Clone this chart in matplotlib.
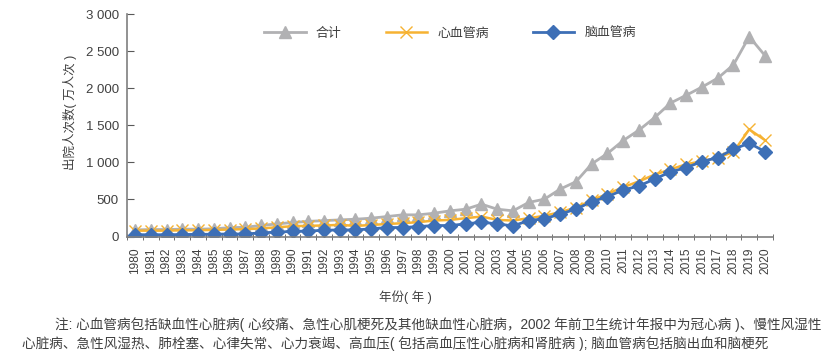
import matplotlib
matplotlib.use("Agg")
import matplotlib.pyplot as plt
from matplotlib.ticker import FuncFormatter, FixedLocator

plt.rcParams["font.family"] = ["Liberation Sans", "Noto Sans CJK SC"]

years = list(range(1980, 2021))
total = [90, 95, 95, 100, 100, 105, 120, 125, 150, 170,
         190, 205, 215, 225, 234, 248, 270, 293, 293, 315,
         347, 369, 437, 369, 347, 460, 505, 640, 740, 980,
         1120, 1295, 1435, 1605, 1800, 1905, 2015, 2135, 2315, 2695,
         2440]
cardio = [80, 80, 80, 85, 85, 90, 95, 100, 110, 125,
          140, 145, 150, 158, 144, 156, 170, 180, 195, 216,
          225, 248, 270, 225, 216, 248, 280, 330, 390, 490,
          575, 665, 745, 835, 905, 975, 1015, 1065, 1140, 1445,
          1300]
cerebro = [25, 25, 25, 28, 30, 32, 35, 35, 50, 60,
           70, 75, 85, 90, 90, 104, 122, 122, 135, 149,
           149, 171, 194, 171, 144, 216, 240, 304, 370, 470,
           538, 628, 682, 777, 871, 930, 1011, 1065, 1178, 1259,
           1146]
labels = ["合计", "心血管病", "脑血管病"]

txt = "#404040"
fig = plt.figure(figsize=(8.31, 3.59), dpi=100)
ax = fig.add_axes([0.153, 0.341, 0.777, 0.62])

ax.plot(years, total, color="#B1B1B3", lw=2, marker="^", ms=8, label=labels[0])
ax.plot(years, cardio, color="#F6B232", lw=1.8, marker="x", ms=9, mew=1.0, label=labels[1])
ax.plot(years, cerebro, color="#3D6FB6", lw=2, marker="D", ms=7, label=labels[2])

ax.set_xlim(1979.5, 2020.5)
ax.set_ylim(0, 3000)
ax.set_yticks(range(0, 3001, 500))
ax.yaxis.set_major_formatter(FuncFormatter(lambda v, p: f"{int(v):,}".replace(",", " ")))
ax.set_xticks(years)
ax.set_xticklabels([str(y) for y in years], rotation=90, fontsize=8.6, color=txt)
ax.xaxis.set_minor_locator(FixedLocator([y + 0.5 for y in years[:-1]] + [1979.5, 2020.5]))
ax.tick_params(axis="x", which="major", length=0, pad=8)
ax.tick_params(axis="x", which="minor", length=5, direction="inout", color="#595959")
ax.tick_params(axis="y", length=5, direction="in", pad=6, color="#595959",
               labelsize=9.5, labelcolor=txt)

for s in ["top", "right"]:
    ax.spines[s].set_visible(False)
for s in ["left", "bottom"]:
    ax.spines[s].set_color("#7f7f7f")
    ax.spines[s].set_linewidth(1.2)

ax.set_ylabel("出院人次数( 万人次 )", fontsize=9, color=txt)
ax.yaxis.set_label_coords(-0.078, 0.56)
ax.legend(loc="upper center", bbox_to_anchor=(0.5, 0.99), ncol=3, frameon=False,
          fontsize=9.3, handlelength=3.2, columnspacing=3.4, labelcolor=txt)

fig.text(405 / 831, 1 - 297 / 359, "年份( 年 )", ha="center", va="center", fontsize=9, color=txt)
fig.text(55 / 831, 1 - 325 / 359,
         "注: 心血管病包括缺血性心脏病( 心绞痛、急性心肌梗死及其他缺血性心脏病，2002 年前卫生统计年报中为冠心病 )、慢性风湿性",
         ha="left", va="center", fontsize=9.8, color=txt)
fig.text(22 / 831, 1 - 344 / 359,
         "心脏病、急性风湿热、肺栓塞、心律失常、心力衰竭、高血压( 包括高血压性心脏病和肾脏病 ); 脑血管病包括脑出血和脑梗死",
         ha="left", va="center", fontsize=9.8, color=txt)

fig.savefig("out.png", dpi=100)
